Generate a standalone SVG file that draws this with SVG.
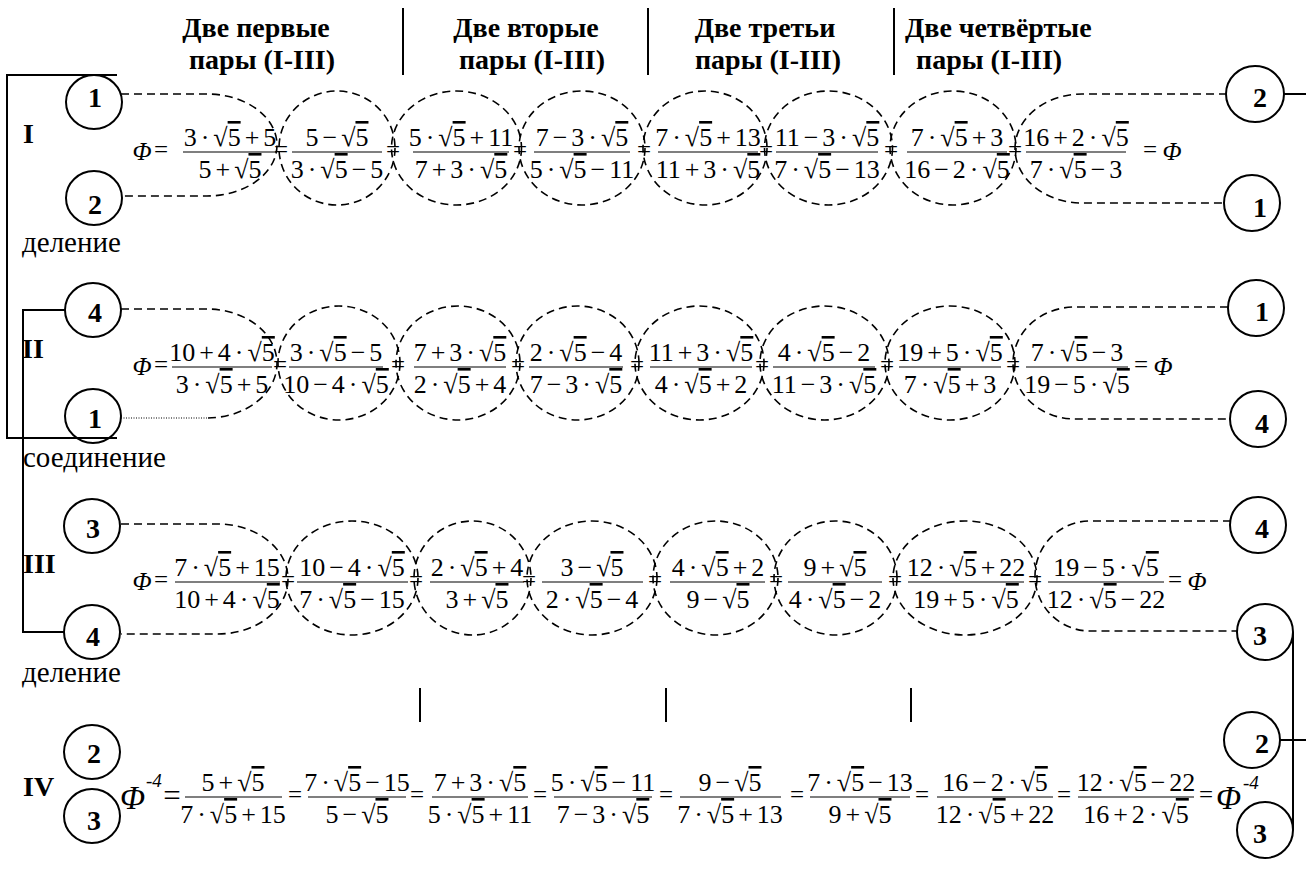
<svg xmlns="http://www.w3.org/2000/svg" width="1306" height="881" viewBox="0 0 1306 881" font-family="'Liberation Serif', 'Times New Roman', serif">
<style>
text{font-family:'Liberation Serif','Times New Roman',serif;fill:#000}
.hd{font-size:28px;font-weight:bold}
.lb{font-size:28px;font-weight:bold}
.dg{font-size:28px;font-weight:bold;text-anchor:middle}
.tx{font-size:29px}
.m{font-size:26px;text-anchor:middle;word-spacing:-2.5px}
.eq{font-size:25px;text-anchor:middle}
.mi{font-size:25px;font-style:italic;text-anchor:middle}
.big{font-size:33px;font-style:italic}
.sup{font-size:19px;font-style:italic}
.ov{text-decoration:overline}
.bar{stroke:#000;stroke-width:1.2}
.dash{fill:none;stroke:#000;stroke-width:1.6;stroke-dasharray:8 5}
.dot{fill:none;stroke:#000;stroke-width:1.2;stroke-dasharray:1 1.5}
.solid{fill:none;stroke:#000;stroke-width:2}
.node{fill:none;stroke:#000;stroke-width:2}
</style>

<g id="header">
<text class="hd" x="256" y="37" text-anchor="middle">Две первые</text>
<text class="hd" x="262" y="69" text-anchor="middle">пары (I-III)</text>
<text class="hd" x="526" y="37" text-anchor="middle">Две вторые</text>
<text class="hd" x="532" y="69" text-anchor="middle">пары (I-III)</text>
<text class="hd" x="765" y="37" text-anchor="middle">Две третьи</text>
<text class="hd" x="768" y="69" text-anchor="middle">пары (I-III)</text>
<text class="hd" x="905" y="37">Две четвёртые</text>
<text class="hd" x="916" y="69">пары (I-III)</text>
<line class="solid" x1="403" y1="8" x2="403" y2="75"/>
<line class="solid" x1="648" y1="8" x2="648" y2="75"/>
<line class="solid" x1="894" y1="8" x2="894" y2="75"/>
</g>

<g id="labels">
<text class="lb" x="23" y="143">I</text>
<text class="lb" x="22" y="358">II</text>
<text class="lb" x="23" y="573">III</text>
<text class="lb" x="23" y="796">IV</text>
<text class="tx" x="22" y="252">деление</text>
<text class="tx" x="23" y="467">соединение</text>
<text class="tx" x="22" y="682">деление</text>
<line class="solid" x1="420" y1="688" x2="420" y2="722"/>
<line class="solid" x1="666" y1="688" x2="666" y2="722"/>
<line class="solid" x1="911" y1="688" x2="911" y2="722"/>
</g>

<g id="connectors">
<path class="solid" d="M117,75 H7 V438 H117"/>
<path class="solid" d="M65,310 H23 V632 H64"/>
<path class="solid" d="M1284,94 H1306"/>
<path class="solid" d="M1280,740 H1306"/>
<path class="solid" d="M1293,632 V830"/>
<path class="dash" d="M121,94 H207 A70,51 0 0 1 207,196 H121"/>
<path class="dash" d="M1227,94 H1082 A67,54.5 0 0 0 1082,203 H1224"/>
<ellipse class="dash" cx="337" cy="148" rx="58" ry="57"/>
<ellipse class="dash" cx="456.5" cy="148" rx="65" ry="57"/>
<ellipse class="dash" cx="582" cy="148" rx="63" ry="57"/>
<ellipse class="dash" cx="705" cy="148" rx="62" ry="57"/>
<ellipse class="dash" cx="828.5" cy="148" rx="64" ry="57"/>
<ellipse class="dash" cx="953" cy="148" rx="63" ry="57"/>
<path class="dash" d="M121,309 H207 A70,54.5 0 0 1 207,418"/>
<path class="dot" d="M121,418 H207"/>
<path class="dash" d="M1228,307 H1075 A62,56 0 0 0 1075,419 H1230"/>
<ellipse class="dash" cx="339" cy="363" rx="61" ry="57"/>
<ellipse class="dash" cx="458" cy="363" rx="62" ry="57"/>
<ellipse class="dash" cx="577.5" cy="363" rx="61.5" ry="57"/>
<ellipse class="dash" cx="699.5" cy="363" rx="64.5" ry="57"/>
<ellipse class="dash" cx="824.5" cy="363" rx="64.5" ry="57"/>
<ellipse class="dash" cx="950" cy="363" rx="65" ry="57"/>
<path class="dash" d="M121,524 H218 A70,55 0 0 1 218,634 H121"/>
<path class="dash" d="M1231,521 H1090 A55,55 0 0 0 1090,631 H1237"/>
<ellipse class="dash" cx="352" cy="578" rx="66" ry="57"/>
<ellipse class="dash" cx="472.5" cy="578" rx="58.5" ry="57"/>
<ellipse class="dash" cx="592" cy="578" rx="65" ry="57"/>
<ellipse class="dash" cx="715.5" cy="578" rx="62.5" ry="57"/>
<ellipse class="dash" cx="835.5" cy="578" rx="61.5" ry="57"/>
<ellipse class="dash" cx="965" cy="578" rx="72" ry="57"/>
</g>

<g id="node-L-I-1"><ellipse class="node" cx="94" cy="102" rx="28" ry="27"/><text class="dg" x="95" y="107">1</text></g>
<g id="node-L-I-2"><ellipse class="node" cx="94" cy="198" rx="28" ry="27"/><text class="dg" x="95" y="214">2</text></g>
<g id="node-L-II-4"><ellipse class="node" cx="93" cy="310" rx="28" ry="27"/><text class="dg" x="95" y="322">4</text></g>
<g id="node-L-II-1"><ellipse class="node" cx="93" cy="416" rx="28" ry="27"/><text class="dg" x="95" y="428">1</text></g>
<g id="node-L-III-3"><ellipse class="node" cx="92" cy="526" rx="28" ry="27"/><text class="dg" x="93" y="538">3</text></g>
<g id="node-L-III-4"><ellipse class="node" cx="92" cy="632" rx="28" ry="27"/><text class="dg" x="93" y="646">4</text></g>
<g id="node-L-IV-2"><ellipse class="node" cx="92" cy="752" rx="28" ry="27"/><text class="dg" x="94" y="763">2</text></g>
<g id="node-L-IV-3"><ellipse class="node" cx="92" cy="816" rx="28" ry="27"/><text class="dg" x="94" y="830">3</text></g>

<g id="node-R-I-2"><ellipse class="node" cx="1255" cy="94" rx="29" ry="28"/><text class="dg" x="1260" y="107">2</text></g>
<g id="node-R-I-1"><ellipse class="node" cx="1252" cy="203" rx="28" ry="28"/><text class="dg" x="1260" y="217">1</text></g>
<g id="node-R-II-1"><ellipse class="node" cx="1256" cy="308" rx="28" ry="28"/><text class="dg" x="1262" y="321">1</text></g>
<g id="node-R-II-4"><ellipse class="node" cx="1258" cy="419" rx="28" ry="28"/><text class="dg" x="1262" y="433">4</text></g>
<g id="node-R-III-4"><ellipse class="node" cx="1258" cy="525" rx="28" ry="28"/><text class="dg" x="1262" y="538">4</text></g>
<g id="node-R-III-3"><ellipse class="node" cx="1265" cy="632" rx="28" ry="28"/><text class="dg" x="1260" y="645">3</text></g>
<g id="node-R-IV-2"><ellipse class="node" cx="1252" cy="740" rx="28" ry="28"/><text class="dg" x="1262" y="753">2</text></g>
<g id="node-R-IV-3"><ellipse class="node" cx="1265" cy="830" rx="28" ry="28"/><text class="dg" x="1260" y="843">3</text></g>

<g id="formula-I">
<text class="mi" x="142" y="160">Φ</text><text class="eq" x="161" y="158">=</text>
<text class="m" x="230" y="146">3 · √<tspan class="ov">5</tspan> + 5</text><line class="bar" x1="183" y1="152" x2="277" y2="152"/><text class="m" x="230" y="178">5 + √<tspan class="ov">5</tspan></text>
<text class="eq" x="281" y="158">=</text>
<text class="m" x="337" y="146">5 − √<tspan class="ov">5</tspan></text><line class="bar" x1="292" y1="152" x2="382" y2="152"/><text class="m" x="337" y="178">3 · √<tspan class="ov">5</tspan> − 5</text>
<text class="eq" x="393" y="158">=</text>
<text class="m" x="461" y="146">5 · √<tspan class="ov">5</tspan> + 11</text><line class="bar" x1="413" y1="152" x2="509" y2="152"/><text class="m" x="461" y="178">7 + 3 · √<tspan class="ov">5</tspan></text>
<text class="eq" x="520" y="158">=</text>
<text class="m" x="582" y="146">7 − 3 · √<tspan class="ov">5</tspan></text><line class="bar" x1="534" y1="152" x2="630" y2="152"/><text class="m" x="582" y="178">5 · √<tspan class="ov">5</tspan> − 11</text>
<text class="eq" x="644" y="158">=</text>
<text class="m" x="708" y="146">7 · √<tspan class="ov">5</tspan> + 13</text><line class="bar" x1="658" y1="152" x2="758" y2="152"/><text class="m" x="708" y="178">11 + 3 · √<tspan class="ov">5</tspan></text>
<text class="eq" x="766" y="158">=</text>
<text class="m" x="827" y="146">11 − 3 · √<tspan class="ov">5</tspan></text><line class="bar" x1="776" y1="152" x2="878" y2="152"/><text class="m" x="827" y="178">7 · √<tspan class="ov">5</tspan> − 13</text>
<text class="eq" x="891" y="158">=</text>
<text class="m" x="957" y="146">7 · √<tspan class="ov">5</tspan> + 3</text><line class="bar" x1="907" y1="152" x2="1007" y2="152"/><text class="m" x="957" y="178">16 − 2 · √<tspan class="ov">5</tspan></text>
<text class="eq" x="1015" y="158">=</text>
<text class="m" x="1076" y="146">16 + 2 · √<tspan class="ov">5</tspan></text><line class="bar" x1="1026" y1="152" x2="1126" y2="152"/><text class="m" x="1076" y="178">7 · √<tspan class="ov">5</tspan> − 3</text>
<text class="eq" x="1150" y="158">=</text><text class="mi" x="1172" y="160">Φ</text>
</g>

<g id="formula-II">
<text class="mi" x="142" y="375">Φ</text><text class="eq" x="161" y="373">=</text>
<text class="m" x="222" y="361">10 + 4 · √<tspan class="ov">5</tspan></text><line class="bar" x1="172" y1="367" x2="272" y2="367"/><text class="m" x="222" y="393">3 · √<tspan class="ov">5</tspan> + 5</text>
<text class="eq" x="280" y="373">=</text>
<text class="m" x="336" y="361">3 · √<tspan class="ov">5</tspan> − 5</text><line class="bar" x1="289" y1="367" x2="383" y2="367"/><text class="m" x="336" y="393">10 − 4 · √<tspan class="ov">5</tspan></text>
<text class="eq" x="398" y="373">=</text>
<text class="m" x="460" y="361">7 + 3 · √<tspan class="ov">5</tspan></text><line class="bar" x1="414" y1="367" x2="506" y2="367"/><text class="m" x="460" y="393">2 · √<tspan class="ov">5</tspan> + 4</text>
<text class="eq" x="518" y="373">=</text>
<text class="m" x="576" y="361">2 · √<tspan class="ov">5</tspan> − 4</text><line class="bar" x1="529" y1="367" x2="623" y2="367"/><text class="m" x="576" y="393">7 − 3 · √<tspan class="ov">5</tspan></text>
<text class="eq" x="637" y="373">=</text>
<text class="m" x="701" y="361">11 + 3 · √<tspan class="ov">5</tspan></text><line class="bar" x1="650" y1="367" x2="752" y2="367"/><text class="m" x="701" y="393">4 · √<tspan class="ov">5</tspan> + 2</text>
<text class="eq" x="762" y="373">=</text>
<text class="m" x="824" y="361">4 · √<tspan class="ov">5</tspan> − 2</text><line class="bar" x1="773" y1="367" x2="875" y2="367"/><text class="m" x="824" y="393">11 − 3 · √<tspan class="ov">5</tspan></text>
<text class="eq" x="887" y="373">=</text>
<text class="m" x="950" y="361">19 + 5 · √<tspan class="ov">5</tspan></text><line class="bar" x1="899" y1="367" x2="1001" y2="367"/><text class="m" x="950" y="393">7 · √<tspan class="ov">5</tspan> + 3</text>
<text class="eq" x="1013" y="373">=</text>
<text class="m" x="1077" y="361">7 · √<tspan class="ov">5</tspan> − 3</text><line class="bar" x1="1026" y1="367" x2="1128" y2="367"/><text class="m" x="1077" y="393">19 − 5 · √<tspan class="ov">5</tspan></text>
<text class="eq" x="1141" y="373">=</text><text class="mi" x="1163" y="375">Φ</text>
</g>

<g id="formula-III">
<text class="mi" x="142" y="590">Φ</text><text class="eq" x="161" y="588">=</text>
<text class="m" x="227" y="576">7 · √<tspan class="ov">5</tspan> + 15</text><line class="bar" x1="175" y1="582" x2="280" y2="582"/><text class="m" x="227" y="608">10 + 4 · √<tspan class="ov">5</tspan></text>
<text class="eq" x="288" y="588">=</text>
<text class="m" x="352" y="576">10 − 4 · √<tspan class="ov">5</tspan></text><line class="bar" x1="297" y1="582" x2="408" y2="582"/><text class="m" x="352" y="608">7 · √<tspan class="ov">5</tspan> − 15</text>
<text class="eq" x="416" y="588">=</text>
<text class="m" x="477" y="576">2 · √<tspan class="ov">5</tspan> + 4</text><line class="bar" x1="430" y1="582" x2="524" y2="582"/><text class="m" x="477" y="608">3 + √<tspan class="ov">5</tspan></text>
<text class="eq" x="529" y="588">=</text>
<text class="m" x="592" y="576">3 − √<tspan class="ov">5</tspan></text><line class="bar" x1="542" y1="582" x2="643" y2="582"/><text class="m" x="592" y="608">2 · √<tspan class="ov">5</tspan> − 4</text>
<text class="eq" x="655" y="588">=</text>
<text class="m" x="718" y="576">4 · √<tspan class="ov">5</tspan> + 2</text><line class="bar" x1="670" y1="582" x2="765" y2="582"/><text class="m" x="718" y="608">9 − √<tspan class="ov">5</tspan></text>
<text class="eq" x="776" y="588">=</text>
<text class="m" x="835" y="576">9 + √<tspan class="ov">5</tspan></text><line class="bar" x1="788" y1="582" x2="882" y2="582"/><text class="m" x="835" y="608">4 · √<tspan class="ov">5</tspan> − 2</text>
<text class="eq" x="895" y="588">=</text>
<text class="m" x="966" y="576">12 · √<tspan class="ov">5</tspan> + 22</text><line class="bar" x1="908" y1="582" x2="1024" y2="582"/><text class="m" x="966" y="608">19 + 5 · √<tspan class="ov">5</tspan></text>
<text class="eq" x="1035" y="588">=</text>
<text class="m" x="1106" y="576">19 − 5 · √<tspan class="ov">5</tspan></text><line class="bar" x1="1048" y1="582" x2="1164" y2="582"/><text class="m" x="1106" y="608">12 · √<tspan class="ov">5</tspan> − 22</text>
<text class="eq" x="1175" y="588">=</text><text class="mi" x="1197" y="590">Φ</text>
</g>

<g id="formula-IV">
<text class="big" x="120" y="809">Φ</text><text class="sup" x="146" y="787">-4</text><text class="eq" x="172" y="806" style="font-size:31px">=</text>
<text class="m" x="233" y="791">5 + √<tspan class="ov">5</tspan></text><line class="bar" x1="185" y1="797" x2="282" y2="797"/><text class="m" x="233" y="823">7 · √<tspan class="ov">5</tspan> + 15</text>
<text class="eq" x="295" y="803">=</text>
<text class="m" x="357" y="791">7 · √<tspan class="ov">5</tspan> − 15</text><line class="bar" x1="308" y1="797" x2="406" y2="797"/><text class="m" x="357" y="823">5 − √<tspan class="ov">5</tspan></text>
<text class="eq" x="417" y="803">=</text>
<text class="m" x="480" y="791">7 + 3 · √<tspan class="ov">5</tspan></text><line class="bar" x1="432" y1="797" x2="528" y2="797"/><text class="m" x="480" y="823">5 · √<tspan class="ov">5</tspan> + 11</text>
<text class="eq" x="540" y="803">=</text>
<text class="m" x="603" y="791">5 · √<tspan class="ov">5</tspan> − 11</text><line class="bar" x1="554" y1="797" x2="652" y2="797"/><text class="m" x="603" y="823">7 − 3 · √<tspan class="ov">5</tspan></text>
<text class="eq" x="666" y="803">=</text>
<text class="m" x="730" y="791">9 − √<tspan class="ov">5</tspan></text><line class="bar" x1="680" y1="797" x2="781" y2="797"/><text class="m" x="730" y="823">7 · √<tspan class="ov">5</tspan> + 13</text>
<text class="eq" x="797" y="803">=</text>
<text class="m" x="860" y="791">7 · √<tspan class="ov">5</tspan> − 13</text><line class="bar" x1="810" y1="797" x2="910" y2="797"/><text class="m" x="860" y="823">9 + √<tspan class="ov">5</tspan></text>
<text class="eq" x="922" y="803">=</text>
<text class="m" x="995" y="791">16 − 2 · √<tspan class="ov">5</tspan></text><line class="bar" x1="937" y1="797" x2="1053" y2="797"/><text class="m" x="995" y="823">12 · √<tspan class="ov">5</tspan> + 22</text>
<text class="eq" x="1064" y="803">=</text>
<text class="m" x="1136" y="791">12 · √<tspan class="ov">5</tspan> − 22</text><line class="bar" x1="1078" y1="797" x2="1194" y2="797"/><text class="m" x="1136" y="823">16 + 2 · √<tspan class="ov">5</tspan></text>
<text class="eq" x="1206" y="803">=</text><text class="big" x="1216" y="809">Φ</text><text class="sup" x="1243" y="789">-4</text>
</g>
</svg>
